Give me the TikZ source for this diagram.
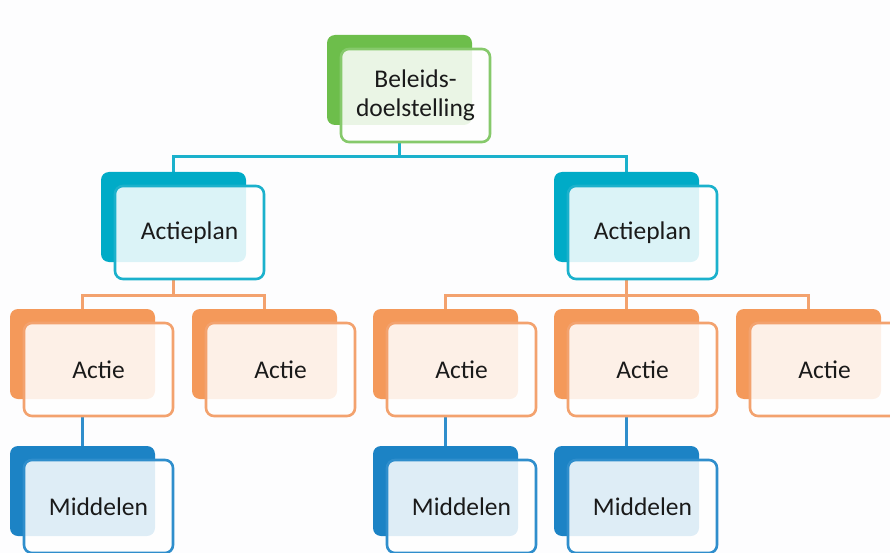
\documentclass[tikz,border=0pt]{standalone}
\usepackage{fontspec}
\setmainfont{Carlito}
\usetikzlibrary{backgrounds}

\definecolor{pagebg}{HTML}{FDFDFE}
\definecolor{txt}{HTML}{1A1A1A}
% level colours: solid back card, outline of front card, connector
\definecolor{grnback}{HTML}{6DBE4B}
\definecolor{grnline}{HTML}{86C96B}
\definecolor{cyaback}{HTML}{00ABC7}
\definecolor{cyaline}{HTML}{1BB1CC}
\definecolor{orgback}{HTML}{F4995A}
\definecolor{orgline}{HTML}{F3A26E}
\definecolor{bluback}{HTML}{1C83C5}
\definecolor{bluline}{HTML}{2F8ECC}

\tikzset{
  backcard/.style={rectangle, rounded corners=8pt, minimum width=145pt,
    minimum height=90pt, inner sep=0pt, draw=none},
  frontcard/.style={rectangle, rounded corners=8pt, minimum width=149pt,
    minimum height=93pt, inner sep=0pt, line width=2.6pt, fill=white,
    fill opacity=0.86, text opacity=1, text=txt, align=center,
    font=\fontsize{25.5}{29}\selectfont},
  link/.style={line width=2.6pt}
}

% #1 name, #2/#3 top-left corner of the back card, #4 back colour,
% #5 outline colour, #6 label
\newcommand\orgcard[6]{%
  \node[backcard, fill=#4] (#1b) at ({#2+72.5},{#3+45}) {};
  \node[frontcard, draw=#5] (#1) at ({#2+14+74.5},{#3+14+46.5}) {#6};
}

\begin{document}
\begin{tikzpicture}[x=1pt,y=-1pt]
\useasboundingbox (0,0) rectangle (890,553);
\clip (0,0) rectangle (890,553);

% top level
\orgcard{bd}{327}{35}{grnback}{grnline}{Beleids-\\doelstelling}
% action plans
\orgcard{apa}{101}{172}{cyaback}{cyaline}{Actieplan}
\orgcard{apb}{554}{172}{cyaback}{cyaline}{Actieplan}
% actions
\orgcard{aa}{10}{309}{orgback}{orgline}{Actie}
\orgcard{ab}{192}{309}{orgback}{orgline}{Actie}
\orgcard{ac}{373}{309}{orgback}{orgline}{Actie}
\orgcard{ad}{554}{309}{orgback}{orgline}{Actie}
\orgcard{ae}{736}{309}{orgback}{orgline}{Actie}
% means
\orgcard{ma}{10}{446}{bluback}{bluline}{Middelen}
\orgcard{mc}{373}{446}{bluback}{bluline}{Middelen}
\orgcard{md}{554}{446}{bluback}{bluline}{Middelen}

\begin{scope}[on background layer]
  \fill[pagebg] (0,0) rectangle (890,553);
  % policy goal -> action plans
  \draw[link, cyaline] (bdb.center |- bd.south) -- ++(0,13) -| (apab.north);
  \draw[link, cyaline] (bdb.center |- bd.south) -- ++(0,13) -| (apbb.north);
  % action plans -> actions
  \draw[link, orgline] (apab.center |- apa.south) -- ++(0,15) -| (aab.north);
  \draw[link, orgline] (apab.center |- apa.south) -- ++(0,15) -| (abb.north);
  \draw[link, orgline] (apbb.center |- apb.south) -- ++(0,15) -| (acb.north);
  \draw[link, orgline] (apbb.center |- apb.south) -- ++(0,15) -| (adb.north);
  \draw[link, orgline] (apbb.center |- apb.south) -- ++(0,15) -| (aeb.north);
  % actions -> means
  \draw[link, bluline] (aab.center |- aa.south) -- (mab.north);
  \draw[link, bluline] (acb.center |- ac.south) -- (mcb.north);
  \draw[link, bluline] (adb.center |- ad.south) -- (mdb.north);
\end{scope}
\end{tikzpicture}
\end{document}
